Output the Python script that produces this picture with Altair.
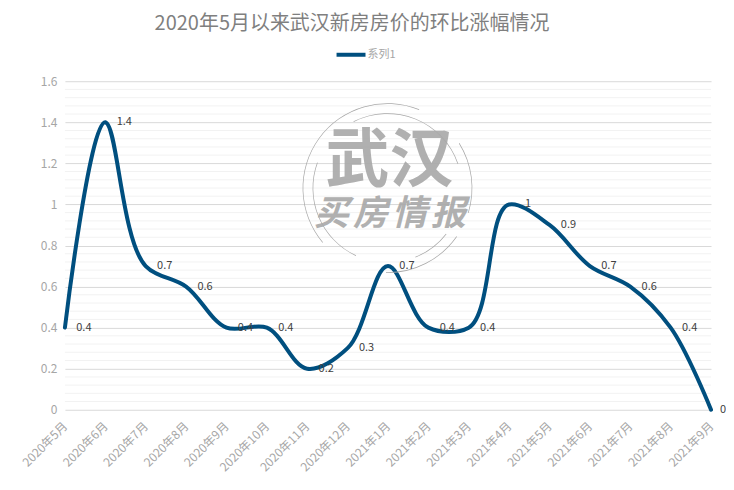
import altair as alt
import pandas as pd

FONT = "Noto Sans CJK SC"
months = ["2020年5月","2020年6月","2020年7月","2020年8月","2020年9月","2020年10月","2020年11月","2020年12月",
          "2021年1月","2021年2月","2021年3月","2021年4月","2021年5月","2021年6月","2021年7月","2021年8月","2021年9月"]
values = [0.4,1.4,0.7,0.6,0.4,0.4,0.2,0.3,0.7,0.4,0.4,1,0.9,0.7,0.6,0.4,0]
major_ticks = [0,0.2,0.4,0.6,0.8,1,1.2,1.4,1.6]
minor_ticks = [round(i*0.04,2) for i in range(41) if i % 5]
series_name = "系列1"
title_text = "2020年5月以来武汉新房房价的环比涨幅情况"
# watermark ring segments: radius in px, start/end angle in degrees clockwise from north
arc_r = [85, 85, 85, 75, 75, 75]
arc_a = [230, 58, 125, 205, 333, 128]
arc_b = [382, 107, 181, 290, 431, 158]
wm_big = "武汉"
wm_small = ["买", "房", "情", "报"]
wm_small_x = [267, 306, 345, 384]

DEG = 3.14159265 / 180
arcs = pd.DataFrame({"r": arc_r, "r2": [v - 0.7 for v in arc_r],
                     "a": [v * DEG for v in arc_a], "b": [v * DEG for v in arc_b]})
df = pd.DataFrame({"month": months, "value": values, "series": series_name})
W, H = 647, 329
yscale = alt.Scale(domain=[0, 1.6], nice=False)
yaxis = alt.Axis(title=None, values=major_ticks, labelExpr="format(datum.value,'~g')", labelFontSize=12,
                 labelColor="#a6a6a6", labelFont=FONT, ticks=False, domain=False, gridColor="#d9d9d9",
                 gridWidth=1, labelPadding=8)
x = alt.X("month:N", sort=months, scale=alt.Scale(type="point", domain=months, padding=0),
          axis=alt.Axis(title=None, labelAngle=-45, labelAlign="right", labelBaseline="middle", labelFontSize=12,
                        labelColor="#a6a6a6", labelFont=FONT, ticks=False, domain=False, grid=False,
                        labelPadding=14, labelOverlap=False))
y = alt.Y("value:Q", scale=yscale, axis=yaxis)
minor = alt.Chart(pd.DataFrame({"v": minor_ticks})).mark_rule(color="#f2f2f2", strokeWidth=1).encode(
    y=alt.Y("v:Q", scale=yscale, axis=yaxis))
base = alt.Chart(df)
line = base.mark_line(interpolate="catmull-rom", tension=0.65, strokeWidth=4, strokeCap="round").encode(
    x=x, y=y,
    color=alt.Color("series:N", scale=alt.Scale(range=["#004f7f"]),
                    legend=alt.Legend(title=None, orient="none", legendX=270, legendY=-43, direction="horizontal",
                                      symbolType="stroke", symbolSize=841, symbolStrokeWidth=4, labelFontSize=11,
                                      labelColor="#a6a6a6", labelFont=FONT, labelOffset=0)))
labels = alt.Chart(df.iloc[:-1]).mark_text(font=FONT, fontSize=11, color="#404040", dx=19).encode(
    x=x, y=y, text=alt.Text("value:Q", format="~g"))
last_label = alt.Chart(df.iloc[-1:]).mark_text(font=FONT, fontSize=11, color="#404040", dx=12).encode(
    x=x, y=y, text=alt.Text("value:Q", format="~g"))
wm_color = "#a8a8a8"
wm = [
    alt.Chart(pd.DataFrame({"t": [wm_big]})).mark_text(
        font=FONT, fontSize=64, fontWeight="bold", color=wm_color, opacity=0.9, align="center", baseline="middle"
    ).encode(x=alt.value(325), y=alt.value(81), text="t:N"),
    alt.Chart(arcs).mark_arc(color="#a8a8a8").encode(
        x=alt.value(323), y=alt.value(107),
        radius=alt.Radius("r:Q", scale=None), radius2="r2:Q",
        theta=alt.Theta("a:Q", scale=None), theta2="b:Q"),
]
for ch, px in zip(wm_small, wm_small_x):
    wm.append(alt.Chart(pd.DataFrame({"t": [ch]})).mark_text(
        font=FONT, fontSize=35, fontWeight="bold", fontStyle="italic", color=wm_color, opacity=0.9,
        align="center", baseline="middle").encode(x=alt.value(px), y=alt.value(133), text="t:N"))
chart = alt.layer(minor, line, *wm, labels, last_label).properties(
    width=W, height=H, autosize=alt.AutoSizeParams(type="none"),
    padding={"left": 57, "top": 73, "right": 15, "bottom": 64},
    title=alt.TitleParams(title_text, font=FONT, fontSize=20, fontWeight="normal", color="#7f7f7f",
                          anchor="middle", offset=4, dx=-36)
).configure_view(stroke=None)
chart.save("out.html", embed_options={"renderer": "svg", "actions": False})
